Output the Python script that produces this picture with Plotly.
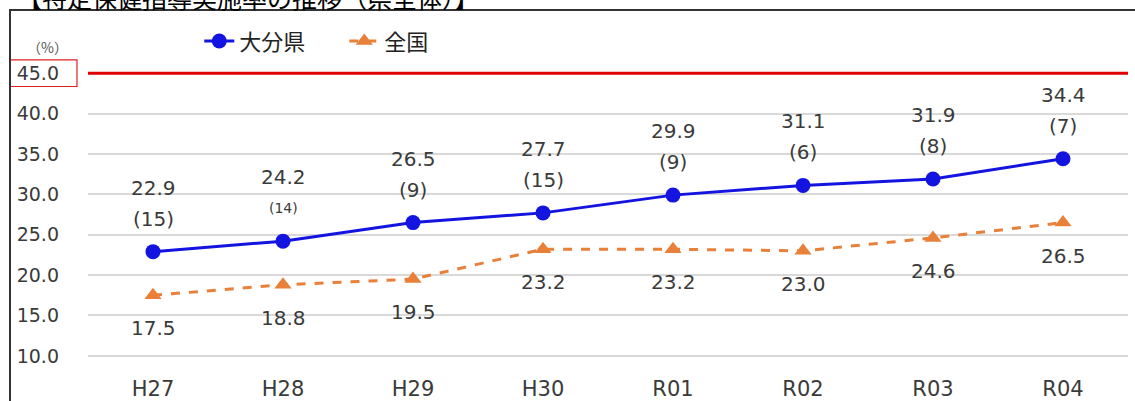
import plotly.graph_objects as go

categories = ["H27", "H28", "H29", "H30", "R01", "R02", "R03", "R04"]
oita = [22.9, 24.2, 26.5, 27.7, 29.9, 31.1, 31.9, 34.4]
oita_rank = [15, 14, 9, 15, 9, 6, 8, 7]
national = [17.5, 18.8, 19.5, 23.2, 23.2, 23.0, 24.6, 26.5]
target = 45.0
y_ticks = [10.0, 15.0, 20.0, 25.0, 30.0, 35.0, 40.0, 45.0]
title_text = "【特定保健指導実施率の推移（県全体）】"

NUM_FONT = "DejaVu Sans"
CJK_FONT = "Noto Sans CJK JP"
TXT = "#3a3a3a"

fig = go.Figure()
fig.add_trace(go.Scatter(
    x=categories, y=oita, name="大分県", mode="lines+markers",
    line=dict(color="#1414E0", width=3),
    marker=dict(symbol="circle", size=15, color="#1414E0"),
))
fig.add_trace(go.Scatter(
    x=categories, y=national, name="全国", mode="lines+markers",
    line=dict(color="#E8803A", width=3, dash="dash"),
    marker=dict(symbol="triangle-up", size=15, color="#E8803A"),
))

ann = []
for c, v, r in zip(categories, oita, oita_rank):
    ann.append(dict(x=c, y=v, text=f"{v:.1f}", showarrow=False, yshift=64,
                    font=dict(family=NUM_FONT, size=20, color=TXT)))
    ann.append(dict(x=c, y=v, text=f"({r})", showarrow=False, yshift=33,
                    font=dict(family=NUM_FONT, size=14 if c == "H28" else 20, color=TXT)))
for c, v in zip(categories, national):
    ann.append(dict(x=c, y=v, text=f"{v:.1f}", showarrow=False, yshift=-33,
                    font=dict(family=NUM_FONT, size=20, color=TXT)))
ann.append(dict(xref="paper", yref="paper", x=-0.061, y=1.033, text="（%）", showarrow=False,
                font=dict(family=CJK_FONT, size=14, color="#555"), xanchor="left", yanchor="middle"))
ann.append(dict(xref="paper", yref="paper", x=-0.07, y=1.19, text=title_text, showarrow=False,
                font=dict(family=CJK_FONT, size=25, color="#000"), xanchor="left", yanchor="middle"))

shapes = [
    dict(type="line", xref="paper", yref="y", x0=0, x1=1, y0=target, y1=target,
         line=dict(color="#E00000", width=3)),
    dict(type="rect", xref="paper", yref="y", x0=-0.075, x1=-0.0106, y0=target - 1.65, y1=target + 1.65,
         line=dict(color="#E02020", width=1.2)),
    dict(type="rect", xref="paper", yref="paper", x0=-0.075, x1=1.2, y0=-0.3, y1=1.149,
         line=dict(color="#333", width=2)),
]

fig.update_layout(
    width=1135, height=401,
    margin=dict(l=88, r=7, t=57, b=29, autoexpand=False),
    plot_bgcolor="white", paper_bgcolor="white",
    showlegend=True,
    legend=dict(orientation="h", x=0.107, y=1.05, xanchor="left", yanchor="middle",
                font=dict(family=CJK_FONT, size=22, color="#222"),
                entrywidth=100, bgcolor="rgba(0,0,0,0)"),
    annotations=ann, shapes=shapes,
    xaxis=dict(type="category", range=[-0.5, 7.5], showgrid=False, showline=False, zeroline=False,
               tickfont=dict(family=NUM_FONT, size=21, color=TXT), ticks="", ticklabelstandoff=2),
    yaxis=dict(range=[8, 47], tickvals=y_ticks, ticktext=[f"{t:.1f}" for t in y_ticks],
               showgrid=True, gridcolor="#D9D9D9", gridwidth=1.5, zeroline=False, showline=False,
               tickfont=dict(family=NUM_FONT, size=19, color=TXT), ticks="", ticklabelstandoff=28),
)

fig.write_html("out.html", config={"displayModeBar": False},
               post_script="document.body.style.margin='0';")
